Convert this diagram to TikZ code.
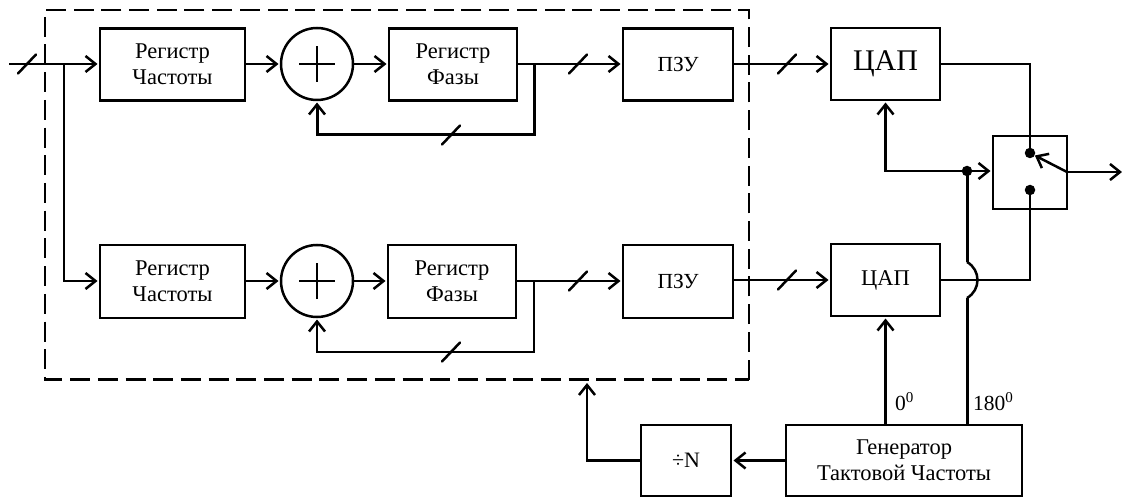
\documentclass[tikz,border=0pt]{standalone}
\usepackage{fontspec}
\setmainfont{Liberation Serif}
\usetikzlibrary{arrows.meta,calc}
\newcommand{\slashmark}[1]{\draw[wire,line cap=round] ([shift={(-9,9.5)}]#1) -- ([shift={(9,-9.5)}]#1);}
\newcommand{\fsz}[1]{\fontsize{#1}{26}\selectfont}
\newcommand{\twolines}[3][-1pt]{\raisebox{#1}{#2}\\\raisebox{#1}{#3}}
\tikzset{
  x=1pt,y=-1pt,
  wire/.style={line width=2.5pt,line join=miter},
  arr/.style={wire,-{Straight Barb[length=10pt,width=16pt,line width=2.5pt]},shorten >=2.5pt},
  box/.style={draw,line width=2.5pt,rectangle,outer sep=0pt,inner sep=0pt,align=center,font=\fsz{22.5}},
  sumnode/.style={draw,line width=2.5pt,circle,outer sep=0pt,inner sep=0pt,minimum size=72pt},
  dot/.style={fill,circle,inner sep=0pt,minimum size=10.5pt},
  lbl/.style={inner sep=0pt,font=\fsz{21.5}},
}
\begin{document}
\begin{tikzpicture}
\useasboundingbox (0,0) rectangle (1122,497);
% dashed frame
\draw[line width=2.5pt,dash pattern=on 20pt off 7.7pt] (749,379.5) -- (749,10) -- (45,10) -- (45,379.5) -- cycle;
% top row
\node[box,minimum width=145pt,minimum height=72pt] (rf1) at (172.5,64.5) {\twolines{Регистр}{Частоты}};
\node[sumnode] (s1) at (317,64) {};
\node[box,minimum width=128pt,minimum height=72pt] (rp1) at (453,64.5) {\twolines{Регистр}{Фазы}};
\node[box,minimum width=110pt,minimum height=72pt,font=\fsz{21.5}] (rom1) at (678,64.5) {ПЗУ};
\node[box,minimum width=109pt,minimum height=72pt,font=\fsz{30}] (dac1) at (885.5,64) {\raisebox{-6pt}{ЦАП}};
% bottom row
\node[box,minimum width=145pt,minimum height=73pt] (rf2) at (172.5,281.5) {\twolines{Регистр}{Частоты}};
\node[sumnode] (s2) at (317,281) {};
\node[box,minimum width=128pt,minimum height=73pt] (rp2) at (452,281.5) {\twolines{Регистр}{Фазы}};
\node[box,minimum width=110pt,minimum height=73pt,font=\fsz{21.5}] (rom2) at (678,281.5) {ПЗУ};
\node[box,minimum width=109pt,minimum height=72pt,font=\fsz{22.5}] (dac2) at (885.5,280) {ЦАП};
% lower row and switch
\node[box,minimum width=90pt,minimum height=71pt,font=\fsz{22}] (div) at (686,460.5) {\raisebox{-3pt}{÷N}};
\node[box,minimum width=236pt,minimum height=71pt] (gen) at (904,460.5) {\twolines[-2pt]{Генератор}{Тактовой Частоты}};
\node[box,minimum width=74pt,minimum height=73pt] (sw) at (1030,172.5) {};
\node[dot] (c1) at (1030,153) {};
\node[dot] (c2) at (1030,190) {};
\node[dot] (j1) at (967,171) {};
% plus signs
\foreach \s in {s1,s2}{
  \draw[line width=2.5pt] ([xshift=-18pt]\s.center) -- ([xshift=18pt]\s.center);
  \draw[line width=2.5pt] ([yshift=-18pt]\s.center) -- ([yshift=18pt]\s.center);
}
% helper coordinates
\coordinate (in) at (9,64);
\coordinate (b1) at (64,64);
\coordinate (f1) at (534,64);
\coordinate (f2) at (534,281);
\coordinate (out) at (1122,172);
\coordinate (swo) at (1067,172);
\coordinate (divup) at (587,380.5);
\coordinate (bt) at (967,262);
\coordinate (bb) at (967,298);
\coordinate (fb1) at (317,135);
\coordinate (fb2) at (317,352);
% input
\draw[arr] (in) -- (rf1.west |- in);
\draw[arr] (b1) |- (rf2.west |- s2);
\slashmark{27,64}
% top chain
\draw[arr] (rf1.east |- s1) -- (s1.west);
\draw[arr] (s1.east) -- (rp1.west |- s1);
\draw[arr] (rp1.east |- s1) -- (rom1.west |- s1);
\draw[arr,line width=3pt] (f1) |- (fb1) -- (s1.south);
\slashmark{451,135}
\slashmark{578,64}
\draw[arr] (rom1.east |- dac1) -- (dac1.west);
\slashmark{787,64}
% bottom chain
\draw[arr] (rf2.east |- s2) -- (s2.west);
\draw[arr] (s2.east) -- (rp2.west |- s2);
\draw[arr] (rp2.east |- s2) -- (rom2.west |- s2);
\draw[arr] (f2) |- (fb2) -- (s2.south);
\slashmark{451,352}
\slashmark{578,281}
\draw[arr] (rom2.east |- dac2) -- (dac2.west);
\slashmark{787,280}
% outputs to switch
\draw[wire] (dac1.east) -| (c1);
\draw[wire] (dac2.east) -| (c2);
\draw[arr,shorten >=0pt] (swo) -- (out);
\draw[arr,shorten >=0pt] (swo) -- (c1);
% clock
\draw[arr] (gen.north -| dac2) -- (dac2.south);
\draw[arr] (j1.center) -| (dac1.south);
\draw[arr] (j1.center) -- (sw.west |- j1);
\draw[line width=3pt] (j1.center) -- (bt);
\draw[line width=2.5pt] (bt) .. controls (981,270) and (981,290) .. (bb);
\draw[line width=3pt] (bb) -- (gen.north -| bb);
% divider
\draw[arr] (gen.west |- div) -- (div.east);
\draw[arr] (div.west) -| (divup);
% labels
\node[lbl,anchor=base west] (l0) at (895,410) {0\textsuperscript{0}};
\node[lbl,anchor=base west] (l180) at (973,410) {180\textsuperscript{0}};
\end{tikzpicture}
\end{document}
